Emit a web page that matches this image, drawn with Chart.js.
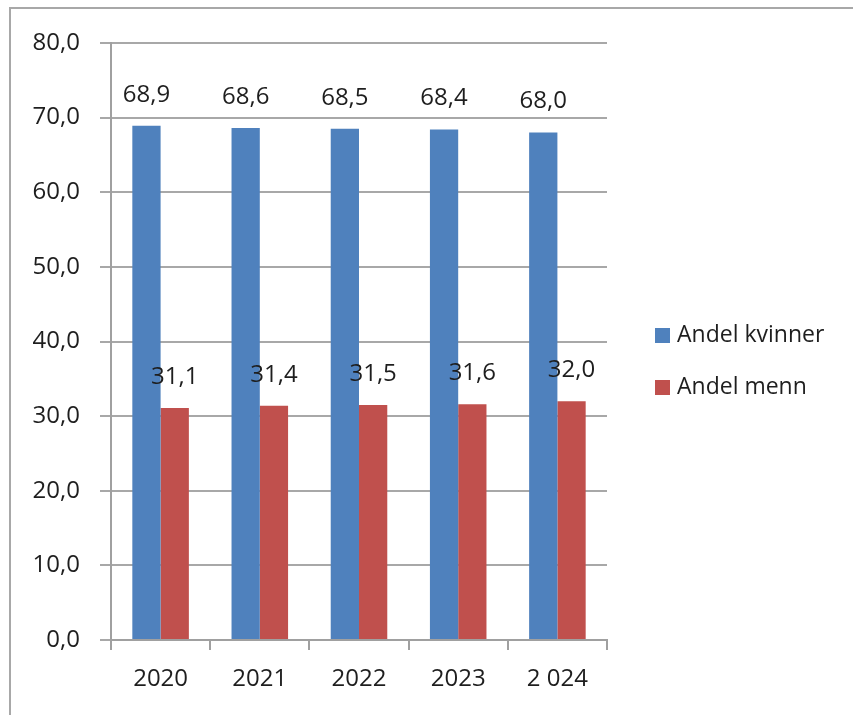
<!DOCTYPE html>
<html>
<head>
<meta charset="utf-8">
<script src="https://cdn.jsdelivr.net/npm/chart.js@4"></script>
<style>
html,body{margin:0;padding:0;background:#fff;}
#wrap{width:853px;height:715px;position:relative;}
</style>
</head>
<body>
<div id="wrap"><canvas id="c" width="853" height="715"></canvas></div>
<script>
const categories = ['2020', '2021', '2022', '2023', '2 024'];
const kvinner = [68.9, 68.6, 68.5, 68.4, 68.0];
const menn = [31.1, 31.4, 31.5, 31.6, 32.0];
const seriesNames = ['Andel kvinner', 'Andel menn'];
const yTicks = [0, 10, 20, 30, 40, 50, 60, 70, 80];

const FONT = "'Open Sans', 'Liberation Sans', sans-serif";
const TEXT = '#1e1e1e';
const fmt = v => v.toFixed(1).replace('.', ',');

const framePlugin = {
  id: 'frame',
  beforeDraw(chart) {
    const ctx = chart.ctx;
    ctx.save();
    ctx.fillStyle = '#fff';
    ctx.fillRect(0, 0, chart.width, chart.height);
    ctx.strokeStyle = '#a8a8a8';
    ctx.lineWidth = 2;
    ctx.beginPath();
    ctx.moveTo(10, chart.height);
    ctx.lineTo(10, 8);
    ctx.lineTo(chart.width, 8);
    ctx.stroke();
    ctx.restore();
  }
};

const labelPlugin = {
  id: 'valueLabels',
  afterDatasetsDraw(chart) {
    const ctx = chart.ctx;
    ctx.save();
    ctx.font = '24px ' + FONT;
    ctx.fillStyle = TEXT;
    ctx.textAlign = 'center';
    ctx.textBaseline = 'middle';
    chart.data.datasets.forEach((ds, i) => {
      const meta = chart.getDatasetMeta(i);
      meta.data.forEach((bar, j) => {
        ctx.fillText(fmt(ds.data[j]), bar.x, bar.y - 31);
      });
    });
    ctx.restore();
  }
};

const legendPlugin = {
  id: 'customLegend',
  afterDraw(chart) {
    const ctx = chart.ctx;
    ctx.save();
    ctx.font = '23px ' + FONT;
    ctx.textBaseline = 'middle';
    ctx.textAlign = 'left';
    const ys = [335, 387];
    chart.data.datasets.forEach((ds, i) => {
      ctx.fillStyle = ds.backgroundColor;
      ctx.fillRect(655, ys[i] - 7, 15, 15);
      ctx.fillStyle = TEXT;
      ctx.fillText(ds.label, 677, ys[i]);
    });
    ctx.restore();
  }
};

new Chart(document.getElementById('c'), {
  type: 'bar',
  data: {
    labels: categories,
    datasets: [
      { label: seriesNames[0], data: kvinner, backgroundColor: '#4F81BD', categoryPercentage: 0.57, barPercentage: 1.0 },
      { label: seriesNames[1], data: menn, backgroundColor: '#C0504D', categoryPercentage: 0.57, barPercentage: 1.0 }
    ]
  },
  options: {
    responsive: false,
    animation: false,
    devicePixelRatio: 1,
    layout: { padding: { left: 0, right: 246, top: 43, bottom: 0 } },
    plugins: { legend: { display: false }, tooltip: { enabled: false } },
    scales: {
      x: {
        afterFit(scale) { scale.height = 75; },
        grid: { drawOnChartArea: false, drawTicks: true, tickLength: 10, color: '#a0a0a0', lineWidth: 2, offset: true },
        border: { display: true, color: '#a0a0a0', width: 2 },
        ticks: { padding: 15, color: TEXT, font: { family: FONT, size: 24 } }
      },
      y: {
        min: 0, max: 80,
        afterFit(scale) { scale.width = 111; },
        afterBuildTicks(scale) { scale.ticks = yTicks.map(v => ({ value: v })); },
        grid: { color: '#a8a8a8', lineWidth: 2, tickLength: 11, drawTicks: true },
        border: { display: true, color: '#a0a0a0', width: 2 },
        ticks: { padding: 20, color: TEXT, font: { family: FONT, size: 24 }, callback: v => fmt(v) }
      }
    }
  },
  plugins: [framePlugin, labelPlugin, legendPlugin]
});
</script>
</body>
</html>
